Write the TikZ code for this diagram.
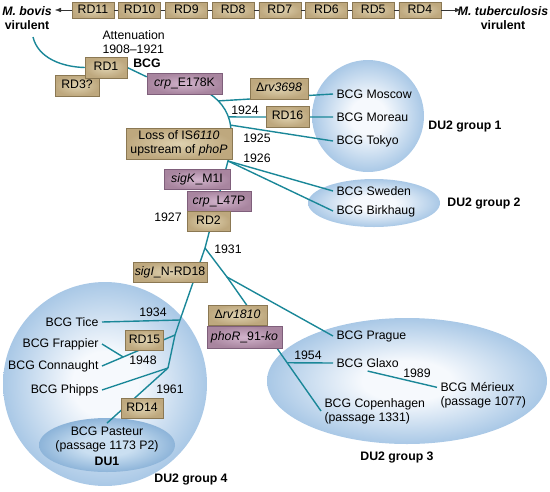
\documentclass[tikz,border=0pt]{standalone}
\usepackage{fontspec}
\setmainfont{Liberation Sans}
\usetikzlibrary{arrows.meta}

\definecolor{wirecol}{HTML}{1A8798}
\definecolor{tanlight}{HTML}{DFD2B0}
\definecolor{tandark}{HTML}{BEA87E}
\definecolor{tanedge}{HTML}{8B7853}
\definecolor{purplelight}{HTML}{D2B4CC}
\definecolor{purpledark}{HTML}{A8859F}
\definecolor{purpleedge}{HTML}{7F5F7B}
\definecolor{blobin}{HTML}{F6F9FD}
\definecolor{blobout}{HTML}{A9C8E6}
\definecolor{duin}{HTML}{CADFF1}
\definecolor{duout}{HTML}{8DB4D9}

\pgfdeclareradialshading{blobshade}{\pgfpoint{0bp}{0bp}}{color(0bp)=(blobin); color(8bp)=(blobin); color(25bp)=(blobout); color(50bp)=(blobout)}
\pgfdeclareradialshading{dushade}{\pgfpoint{0bp}{0bp}}{color(0bp)=(duin); color(10bp)=(duin); color(25bp)=(duout); color(50bp)=(duout)}

\pgfdeclarelayer{blobs}
\pgfdeclarelayer{wires}
\pgfsetlayers{blobs,wires,main}

\begin{document}
\begin{tikzpicture}[x=1pt, y=-1pt,
    every node/.append style={font=\fontsize{12.3}{14}\selectfont},
    tanfill/.style={draw=tanedge, line width=0.5pt, inner color=tanlight, outer color=tandark, inner sep=1pt},
    purplefill/.style={draw=purpleedge, line width=0.5pt, inner color=purplelight, outer color=purpledark, inner sep=1pt},
    oneline/.style={text height=8.5pt, text depth=2.5pt, minimum height=20.5},
    tanbox/.style={tanfill, oneline},
    purplebox/.style={purplefill, oneline},
    wire/.style={draw=wirecol, line width=1.4pt},
    group/.style={font=\fontsize{12.3}{14}\selectfont\bfseries},
    blob/.style={shading=blobshade}]

    \useasboundingbox (0,0) rectangle (550,491);

    % regions of difference between M. bovis and M. tuberculosis
    \foreach \rd [count=\i from 0] in {11,10,9,8,7,6,5,4}
        \node[tanbox, minimum width=42, minimum height=16] (rd\rd) at ({93+46.7*\i},10) {RD\rd};
    \foreach \a/\b in {11/10,10/9,9/8,8/7,7/6,6/5,5/4}
        \draw[black!80] (rd\a) -- (rd\b);

    \node[group, align=center] (bovis) at (27,18.5) {\textit{M. bovis}\\virulent};
    \node[group, align=center] (tub) at (503,18.5) {\textit{M. tuberculosis}\\virulent};
    \coordinate (bovistip) at (55,10);
    \coordinate (tubtip) at (461,10);
    \draw[-{Latex[length=6pt,width=4.5pt]}, black!80] (rd11) -- (bovistip);
    \draw[-{Latex[length=6pt,width=4.5pt]}, black!80] (rd4) -- (tubtip);

    \node[align=left, anchor=west] (atten) at (99,42.5) {Attenuation\\1908--1921};

    % mutations (boxes sit on the branches)
    \node[tanbox, minimum width=44] (rd3) at (77,85.5) {RD3?};
    \node[tanbox, minimum width=42] (rd1) at (106,67.5) {RD1};
    \node[group] (bcg) at (147,63) {BCG};
    \node[purplebox, minimum width=75] (crpE) at (184.5,83.5) {\textit{crp}\_E178K};
    \node[tanbox, minimum width=58] (drv3698) at (279,88.5) {Δ\textit{rv3698}};
    \node[tanbox, minimum width=43] (rd16) at (287.5,116.5) {RD16};
    \node[tanfill, align=center, minimum width=106, minimum height=31] (loss) at (179,143.5)
        {Loss of IS\textit{6110}\\upstream of \textit{phoP}};
    \node[purplebox, minimum width=66, minimum height=20] (sigK) at (197,179.5) {\textit{sigK}\_M1I};
    \node[purplebox, minimum width=64, minimum height=20] (crpL) at (219,201) {\textit{crp}\_L47P};
    \node[tanbox, minimum width=43, minimum height=20] (rd2) at (208.5,221.5) {RD2};
    \node[tanbox, minimum width=74, minimum height=20] (sigI) at (170,272) {\textit{sigI}\_N-RD18};
    \node[tanbox, minimum width=59, minimum height=20] (drv1810) at (237.5,315) {Δ\textit{rv1810}};
    \node[purplebox, minimum width=75, minimum height=22] (phoR) at (244.5,337) {\textit{phoR}\_91-\textit{ko}};
    \node[tanbox, minimum width=38, minimum height=20] (rd15) at (144.5,340) {RD15};
    \node[tanbox, minimum width=42, minimum height=20] (rd14) at (142,408) {RD14};

    % strains
    \node[anchor=west] (moscow) at (333,94) {BCG Moscow};
    \node[anchor=west] (moreau) at (333,117) {BCG Moreau};
    \node[anchor=west] (tokyo) at (333,141) {BCG Tokyo};
    \node[anchor=west] (sweden) at (333,191) {BCG Sweden};
    \node[anchor=west] (birkhaug) at (333,211) {BCG Birkhaug};
    \node[anchor=west] (prague) at (333,336) {BCG Prague};
    \node[anchor=west] (glaxo) at (333,363) {BCG Glaxo};
    \node[anchor=west, align=left] (merieux) at (437,395.5) {BCG Mérieux\\(passage 1077)};
    \node[anchor=west, align=left] (copenhagen) at (321,411) {BCG Copenhagen\\(passage 1331)};
    \node[anchor=east] (tice) at (102,322) {BCG Tice};
    \node[anchor=east] (frappier) at (102,344) {BCG Frappier};
    \node[anchor=east] (connaught) at (102,366) {BCG Connaught};
    \node[anchor=east] (phipps) at (102,390) {BCG Phipps};
    \node[align=center] (pasteur) at (107,446) {BCG Pasteur\\(passage 1173 P2)\\[2pt]\textbf{DU1}};

    % years
    \node (y1924) at (245,110) {1924};
    \node (y1925) at (257,138) {1925};
    \node (y1926) at (257,158) {1926};
    \node (y1927) at (168,217) {1927};
    \node (y1931) at (228,249) {1931};
    \node (y1934) at (153,312) {1934};
    \node (y1948) at (143,360) {1948};
    \node (y1961) at (170,389) {1961};
    \node (y1954) at (308,355) {1954};
    \node (y1989) at (417,373) {1989};

    % groups
    \node[group] (du1) at (465,127) {DU2 group 1};
    \node[group] (du2) at (484,204) {DU2 group 2};
    \node[group] (du3) at (397,458) {DU2 group 3};
    \node[group] (du4) at (191,480) {DU2 group 4};

    \begin{pgfonlayer}{blobs}
        \shade[blob] (368,116) circle (56);
        \shade[blob] (374,203) ellipse (66 and 24);
        \shade[blob] (407,381) ellipse (140 and 63);
        \shade[blob] (105,384) circle (102);
        \shade[shading=dushade] (107,445) ellipse (68 and 27);
    \end{pgfonlayer}

    \begin{pgfonlayer}{wires}
        \coordinate (start) at (33,37);
        \coordinate (jcrp) at (210,94);
        \coordinate (jswe) at (228,161);
        \coordinate (jrd2) at (205,248);
        \coordinate (jtice) at (180,320);
        \coordinate (jrd15) at (175,335);
        \coordinate (jphi) at (168,368);
        \coordinate (jpra) at (227,277);

        \draw[wire] (start) .. controls (38,58) and (62,67) .. (rd1.west);
        \draw[wire] (rd1.east) -- (crpE.170);
        \draw[wire] (jcrp) .. controls (222,102) and (231,115) .. (231,132)
            coordinate[pos=0.25] (jmos) coordinate[pos=0.68] (jmor) coordinate[pos=0.86] (jtok)
            -- (jswe) -- (jrd2) -- (jtice) -- (jrd15) -- (jphi);
        \draw[wire] (jmos) -- (moscow.west);
        \draw[wire] (jmor) -- (moreau.west);
        \draw[wire] (jtok) -- (tokyo.west);
        \draw[wire] (jswe) -- (sweden.west);
        \draw[wire] (jswe) -- (birkhaug.west);

        \draw[wire] (jrd2) -- (jpra) -- (prague.west);
        \draw[wire] (jpra) -- (copenhagen.west) coordinate[pos=0.64] (jgla);
        \draw[wire] (jgla) -- (glaxo.west);
        \draw[wire] (glaxo.south) -- (merieux.170);

        \draw[wire] (tice.east) -- (jtice);
        \draw[wire] (jrd15) -- (connaught.east) coordinate[pos=0.71] (jfra);
        \draw[wire] (frappier.east) -- (jfra);
        \draw[wire] (jphi) -- (phipps.east);
        \draw[wire] (jphi) -- (pasteur.north);
    \end{pgfonlayer}

\end{tikzpicture}
\end{document}
